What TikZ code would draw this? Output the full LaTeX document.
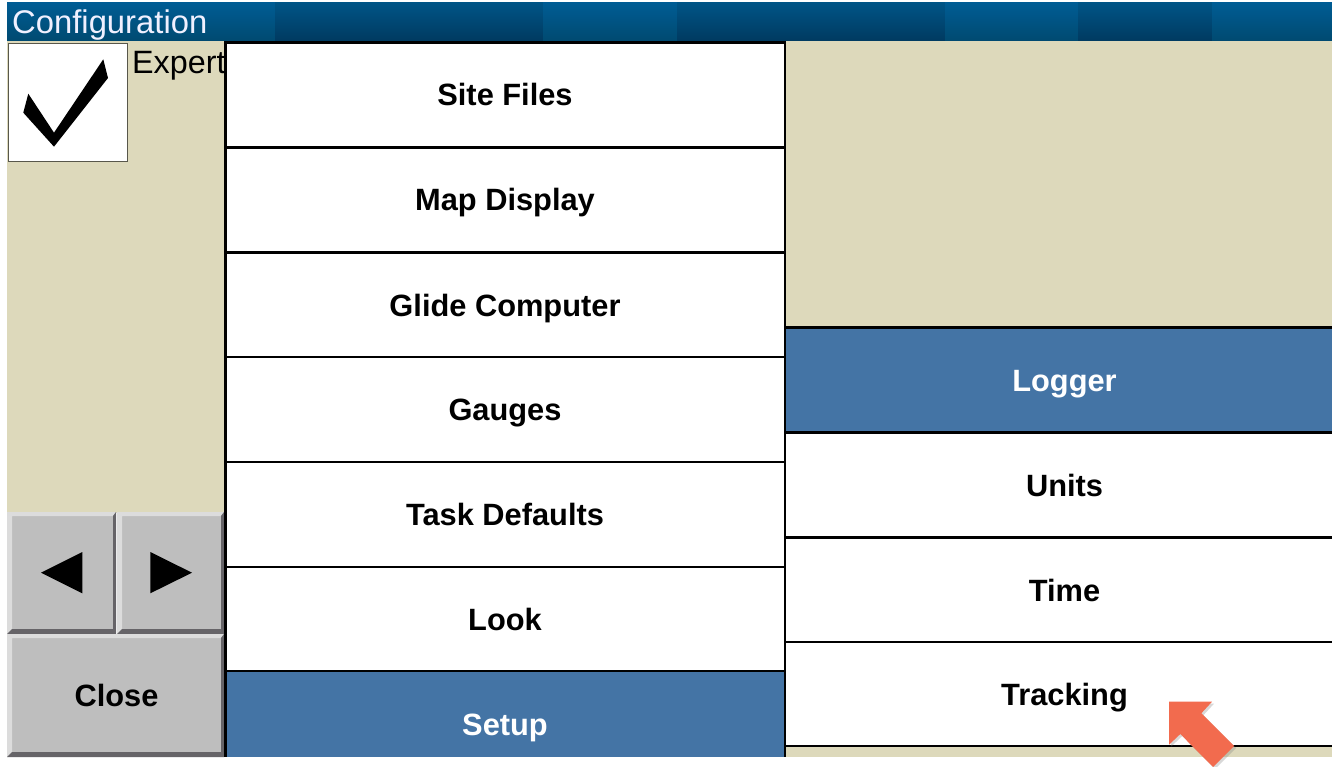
\documentclass[tikz,border=0pt]{standalone}
\usepackage{fontspec}
\setmainfont{Liberation Sans}
\usetikzlibrary{shadows}
\definecolor{beige}{HTML}{DDD9BB}
\definecolor{selblue}{HTML}{4474A5}
\definecolor{btn}{HTML}{BEBEBE}
\definecolor{btnlight}{HTML}{DCDCDC}
\definecolor{btndark}{HTML}{666468}
\definecolor{arrowc}{HTML}{F26B4E}
\definecolor{tla}{HTML}{005C94}
\definecolor{tlb}{HTML}{004A70}
\definecolor{tda}{HTML}{005486}
\definecolor{tdb}{HTML}{003A60}
\tikzset{
  x=1pt,y=-1pt,
  menutext/.style={anchor=base,font=\fontsize{30.8}{36}\selectfont\bfseries,text=black,inner sep=0pt},
  seltext/.style={menutext,text=white},
  rule/.style={draw=black,line width=2.3pt},
  tl/.style={top color=tla,bottom color=tlb,draw=none},
  td/.style={top color=tda,bottom color=tdb,draw=none},
}
\newcommand{\bevelbtn}[4]{%
  \fill[btn] (#1,#2) rectangle (#3,#4);
  \fill[btnlight] (#1,#2) -- (#3,#2) -- (#3-3,#2+4) -- (#1+5,#2+4) -- (#1+5,#4-5) -- (#1,#4) -- cycle;
  \fill[btndark] (#3,#2) -- (#3,#4) -- (#1,#4) -- (#1+5,#4-5) -- (#3-3,#4-5) -- (#3-3,#2+4) -- cycle;
}
\begin{document}
\begin{tikzpicture}
\useasboundingbox (0,0) rectangle (1332,767);
\fill[white] (0,0) rectangle (1332,767);
% title bar
\foreach \a/\b/\s in {7/140/tl,140/275/tl,275/543/td,543/677/tl,677/945/td,945/1078/tl,1078/1212/td,1212/1332/tl}{
  \shade[\s] (\a,3) rectangle (\b,41);
}
\node[anchor=base west,inner sep=0pt,text=white!94!blue,font=\fontsize{32.8}{36}\selectfont] (title) at (12,33.5) {Configuration};
% panels
\fill[beige] (7,41) rectangle (224,513);
\fill[beige] (785,41) rectangle (1332,327);
\fill[beige] (785,746) rectangle (1332,757);
% checkbox
\draw[draw=black!60!beige,fill=white,line width=1pt] (8.5,43.5) rectangle (127.5,161.5);
\fill[black] (103.3,59.3) -- (108,78) -- (54,146.7) -- (23.3,112.7) -- (28.3,93.7) -- (54,132.7) -- cycle;
\node[anchor=base west,inner sep=0pt,font=\fontsize{32.3}{36}\selectfont] (expert) at (132,74) {Expert};
% nav buttons
\bevelbtn{7}{512}{116}{634}
\bevelbtn{117}{512}{224}{634}
\bevelbtn{7}{634}{224}{757}
\fill[black] (41,572.7) -- (82.3,552) -- (82.3,593.3) -- cycle;
\fill[black] (150.3,552) -- (192,572.7) -- (150.3,593.3) -- cycle;
\node[menutext] (close) at (116.5,706.5) {Close};
% middle column
\fill[white] (225,42) rectangle (785,671);
\fill[selblue] (225,671) rectangle (785,757);
\draw[rule] (225.5,42.5) -- (785,42.5);
\foreach \y in {147.5,252.5,357,462,567,671}{ \draw[rule] (225,\y) -- (785,\y); }
\draw[rule] (225.5,41) -- (225.5,757);
\draw[rule] (785,41) -- (785,757);
\node[menutext] (sitefiles) at (505,106) {Site Files};
\node[menutext] (mapdisplay) at (505,211) {Map Display};
\node[menutext] (glide) at (505,316) {Glide Computer};
\node[menutext] (gauges) at (505,420.5) {Gauges};
\node[menutext] (taskdef) at (505,525) {Task Defaults};
\node[menutext] (look) at (505,630) {Look};
\node[seltext] (setup) at (505,735) {Setup};
% right column
\fill[selblue] (786,328) rectangle (1332,432);
\fill[white] (786,432) rectangle (1332,746);
\foreach \y in {327.5,432.5,537.5,642,746}{ \draw[rule] (785,\y) -- (1332,\y); }
\node[seltext] (logger) at (1064.5,391) {Logger};
\node[menutext] (units) at (1064.5,496) {Units};
\node[menutext] (time) at (1064.5,601) {Time};
\node[menutext] (tracking) at (1064.5,705.5) {Tracking};
% arrow
\fill[arrowc,drop shadow={shadow xshift=2pt,shadow yshift=-2pt,opacity=0.3}] (1169,701.7) -- (1212,701.7) -- (1201.3,713.3) -- (1234,746) -- (1213,767) -- (1180.3,734) -- (1169,744.7) -- cycle;
\end{tikzpicture}
\end{document}
